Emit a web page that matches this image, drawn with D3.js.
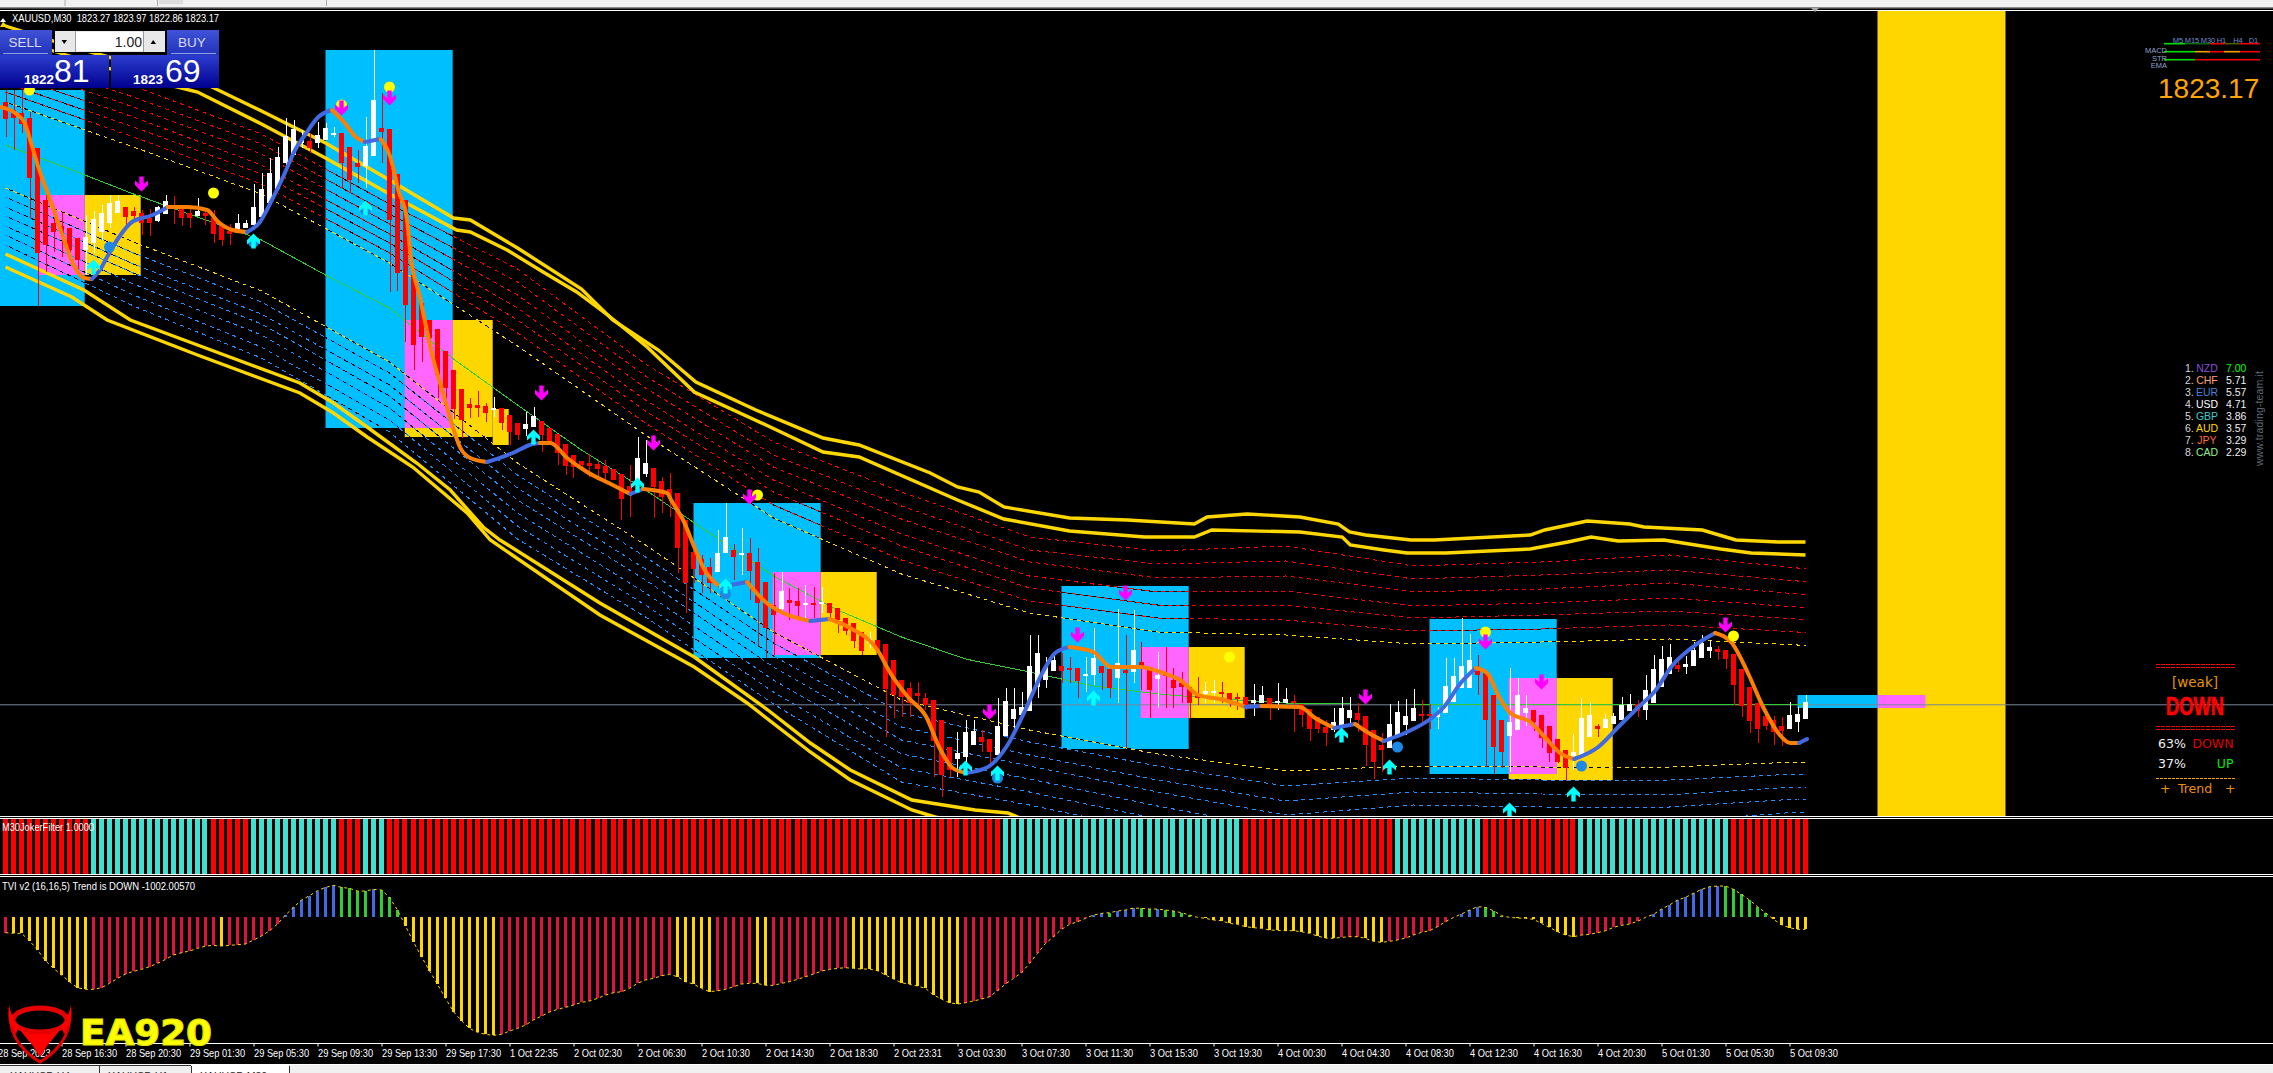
<!DOCTYPE html>
<html><head><meta charset="utf-8">
<script src="https://cdnjs.cloudflare.com/ajax/libs/d3/7.8.5/d3.min.js"></script>
<style>html,body{margin:0;padding:0;background:#000;overflow:hidden}svg{display:block}text{font-family:"Liberation Sans",Arial,sans-serif}</style>
</head><body><svg id="c" width="2273" height="1073"></svg>
<script>
const candleOpen=[1883.4,1882.6,1882.3,1881.8,1878.8,1873.6,1871.3,1871.0,1870.8,1869.8,
1868.6,1869.3,1870.4,1871.3,1872.3,1872.9,1872.5,1872.3,1871.8,1871.5,
1872.2,1873.0,1872.7,1872.3,1872.0,1872.3,1871.8,1871.2,1870.5,1870.6,
1870.8,1871.1,1871.9,1873.3,1874.7,1877.3,1878.1,1879.3,1879.5,1879.3,
1879.6,1880.2,1880.3,1878.9,1877.3,1877.0,1878.0,1880.8,1880.7,1876.2,
1873.6,1866.1,1863.3,1861.6,1860.7,1858.5,1856.6,1854.7,1853.2,1853.1,
1853.0,1852.6,1852.8,1852.1,1851.3,1850.7,1850.9,1851.5,1850.8,1850.2,
1849.2,1848.1,1847.5,1847.3,1847.2,1847.0,1846.7,1846.2,1845.0,1845.1,
1846.2,1846.8,1845.5,1844.7,1844.3,1841.6,1838.4,1837.7,1836.9,1836.4,
1838.3,1838.6,1838.2,1838.3,1837.4,1835.4,1833.1,1832.7,1833.6,1833.5,
1833.2,1833.3,1833.2,1833.3,1832.8,1831.8,1831.3,1830.4,1829.3,1829.6,
1829.2,1827.6,1825.6,1824.8,1824.3,1823.8,1823.6,1821.6,1818.9,1817.7,
1817.9,1819.1,1819.9,1819.7,1818.1,1820.0,1821.7,1822.1,1822.5,1824.9,
1825.6,1826.5,1827.0,1826.8,1826.8,1826.1,1826.1,1827.0,1826.7,1825.8,
1826.6,1826.4,1827.4,1826.9,1825.7,1826.3,1825.6,1825.3,1824.9,1824.1,
1824.2,1824.3,1824.4,1824.3,1823.9,1823.9,1823.3,1823.3,1823.8,1823.3,
1823.3,1823.5,1823.2,1822.7,1821.9,1820.9,1820.6,1821.0,1821.8,1822.3,
1822.0,1820.6,1819.1,1818.8,1820.0,1821.1,1821.5,1822.2,1822.2,1821.9,
1822.3,1823.4,1824.8,1824.8,1826.5,1826.3,1824.1,1821.6,1820.0,1820.6,
1822.3,1822.6,1822.1,1821.0,1819.7,1818.6,1818.0,1818.1,1819.9,1821.0,
1820.8,1821.2,1821.6,1822.5,1823.2,1822.6,1823.3,1824.9,1826.2,1827.1,
1826.9,1827.0,1827.8,1828.5,1828.7,1828.6,1828.2,1826.7,1824.9,1823.3,
1822.0,1821.6,1821.0,1820.7,1821.4,1821.7];
const candleClose=[1881.7,1881.8,1881.2,1875.8,1868.3,1869.1,1870.4,1870.4,1868.6,1867.6,
1869.9,1871.7,1872.3,1873.3,1873.5,1871.9,1872.0,1871.3,1871.3,1872.9,
1873.5,1872.8,1871.8,1871.8,1872.5,1872.0,1870.2,1869.6,1870.2,1871.3,
1871.3,1872.9,1874.7,1876.3,1877.9,1880.0,1880.7,1879.6,1878.8,1880.1,
1880.8,1880.3,1877.3,1875.6,1876.9,1879.0,1883.6,1880.4,1871.6,1866.3,
1863.1,1859.1,1859.9,1859.8,1856.1,1854.8,1852.7,1851.6,1852.8,1852.8,
1852.3,1852.8,1851.3,1850.4,1850.1,1851.2,1852.0,1850.1,1849.4,1848.3,
1847.0,1846.9,1847.1,1847.0,1846.7,1846.3,1845.6,1843.7,1844.3,1847.8,
1847.3,1844.9,1843.9,1843.9,1838.8,1835.3,1836.7,1836.1,1835.3,1838.3,
1839.9,1837.9,1838.3,1836.5,1833.3,1830.8,1832.1,1834.5,1833.3,1833.0,
1833.3,1833.1,1833.4,1832.3,1831.6,1830.5,1829.5,1828.5,1829.7,1828.6,
1824.7,1824.1,1823.9,1823.3,1824.0,1823.1,1819.5,1816.1,1816.6,1818.3,
1820.4,1820.5,1819.4,1818.4,1821.0,1823.5,1822.7,1822.9,1827.0,1828.3,
1826.9,1827.6,1826.5,1826.7,1825.5,1826.2,1827.8,1826.3,1824.8,1827.3,
1826.3,1828.6,1826.9,1824.6,1826.1,1826.0,1824.8,1824.9,1823.3,1823.8,
1824.5,1824.5,1824.3,1823.5,1823.7,1823.1,1823.6,1824.1,1823.1,1823.5,
1823.7,1823.3,1822.1,1820.7,1820.7,1820.3,1821.4,1822.8,1822.6,1821.6,
1819.1,1817.4,1818.6,1821.2,1822.4,1822.0,1822.8,1822.1,1822.1,1822.3,
1825.0,1826.0,1827.0,1827.6,1826.1,1821.6,1818.9,1818.4,1821.4,1824.1,
1822.8,1821.4,1819.8,1818.3,1817.4,1816.8,1818.4,1821.8,1822.1,1820.7,
1821.7,1822.0,1823.1,1823.2,1822.5,1824.6,1826.7,1827.7,1827.9,1826.7,
1827.2,1828.6,1829.3,1828.9,1828.4,1827.7,1825.1,1823.0,1821.5,1820.7,
1821.0,1820.4,1820.5,1822.1,1822.2,1823.4];
const candleHigh=[1884.6,1884.6,1884.6,1882.4,1878.8,1875.1,1872.4,1872.3,1870.8,1869.8,
1872.1,1872.5,1873.1,1874.1,1874.1,1872.9,1872.9,1872.6,1872.7,1873.0,
1874.1,1874.0,1872.7,1872.8,1873.8,1872.7,1872.6,1871.2,1871.2,1872.2,
1871.6,1875.2,1876.3,1877.8,1878.9,1881.8,1881.6,1880.6,1880.3,1881.4,
1881.3,1880.9,1880.3,1878.9,1878.6,1881.9,1888.6,1884.3,1880.7,1876.2,
1873.6,1866.1,1863.3,1861.6,1860.7,1858.5,1856.6,1854.7,1853.8,1854.5,
1853.3,1853.9,1852.8,1852.1,1851.3,1852.4,1852.9,1851.5,1850.8,1850.2,
1849.2,1848.1,1847.5,1848.2,1847.5,1847.6,1846.7,1846.2,1847.1,1849.9,
1849.6,1846.8,1845.9,1846.3,1844.3,1841.6,1838.4,1838.1,1837.8,1840.6,
1843.3,1839.2,1840.8,1839.8,1838.8,1835.4,1836.3,1836.4,1834.8,1834.8,
1835.1,1834.9,1834.9,1833.3,1832.8,1831.8,1831.3,1830.4,1830.4,1829.6,
1829.2,1827.6,1825.6,1825.4,1825.4,1824.3,1823.6,1821.6,1818.9,1820.4,
1821.6,1821.6,1820.6,1819.7,1823.8,1824.8,1824.8,1824.4,1830.1,1830.1,
1827.9,1828.3,1828.3,1827.9,1826.8,1827.9,1830.8,1827.0,1826.7,1832.7,
1830.1,1832.6,1829.4,1826.9,1828.4,1828.9,1826.8,1826.4,1824.9,1825.9,
1825.4,1825.6,1825.4,1824.3,1824.3,1823.9,1825.2,1825.0,1823.8,1825.3,
1824.8,1824.1,1823.2,1822.7,1821.9,1821.6,1822.8,1823.9,1823.9,1823.3,
1822.0,1820.6,1820.3,1823.2,1823.5,1823.7,1824.7,1823.6,1823.2,1822.9,
1827.8,1827.8,1831.8,1830.2,1828.1,1826.3,1824.1,1821.6,1826.8,1825.8,
1824.1,1822.6,1822.1,1821.0,1819.7,1818.6,1820.2,1823.8,1823.4,1821.2,
1822.2,1822.3,1823.9,1824.2,1823.6,1826.1,1828.1,1829.0,1829.2,1827.6,
1828.0,1829.4,1830.1,1829.6,1829.0,1828.6,1828.2,1826.7,1824.9,1823.3,
1822.0,1822.0,1821.9,1823.4,1822.9,1824.1];
const candleLow=[1879.9,1878.6,1880.3,1871.8,1863.0,1866.4,1868.4,1867.9,1868.4,1866.7,
1866.1,1868.3,1869.6,1870.8,1872.3,1870.8,1871.4,1870.1,1870.0,1871.4,
1872.2,1871.2,1871.0,1870.8,1872.0,1871.1,1869.3,1869.0,1869.1,1870.6,
1870.8,1870.9,1871.9,1873.3,1874.6,1876.3,1878.1,1878.8,1878.3,1878.8,
1879.6,1879.9,1874.8,1874.3,1875.3,1874.8,1878.0,1877.3,1864.4,1864.5,
1859.4,1856.6,1857.4,1858.0,1853.8,1853.4,1851.7,1849.8,1851.8,1851.9,
1851.4,1851.9,1850.6,1849.1,1849.6,1850.0,1850.9,1848.4,1849.3,1847.1,
1846.1,1845.8,1846.9,1845.9,1845.8,1845.6,1845.6,1841.6,1841.9,1845.1,
1845.9,1841.8,1842.3,1841.9,1836.3,1832.3,1835.3,1834.3,1834.3,1836.4,
1838.3,1835.6,1836.1,1833.6,1828.9,1827.8,1828.1,1832.6,1831.6,1831.6,
1831.8,1831.8,1832.3,1831.8,1830.3,1830.1,1828.8,1828.1,1828.8,1828.3,
1819.9,1821.8,1821.9,1821.9,1822.8,1822.6,1815.9,1813.9,1815.9,1815.9,
1816.8,1819.1,1818.4,1817.3,1818.1,1820.0,1820.3,1822.1,1822.5,1823.8,
1824.8,1826.5,1825.3,1825.3,1823.8,1824.4,1825.1,1824.6,1823.8,1823.3,
1818.8,1825.3,1824.6,1821.8,1822.8,1822.8,1822.8,1823.3,1821.8,1823.1,
1823.3,1823.3,1823.3,1822.9,1822.6,1822.6,1822.0,1823.3,1821.6,1822.6,
1823.3,1820.4,1820.9,1819.5,1820.3,1819.0,1820.4,1821.0,1820.9,1820.4,
1817.0,1815.7,1816.4,1818.8,1820.0,1820.1,1821.5,1821.4,1820.7,1820.7,
1822.3,1823.4,1824.8,1824.8,1824.1,1816.9,1816.2,1816.8,1816.4,1820.6,
1821.0,1820.5,1818.8,1817.4,1817.3,1815.5,1816.6,1818.1,1819.9,1819.9,
1820.8,1821.2,1821.6,1822.5,1821.9,1821.6,1823.3,1824.9,1826.2,1826.4,
1826.2,1827.0,1827.8,1827.8,1827.6,1826.7,1823.1,1821.9,1820.3,1819.3,
1820.6,1819.1,1819.0,1820.7,1820.4,1821.7];

// centre line sampled every 8 bars
const bandBars=[0,8,16,24,32,40,48,56,64,72,80,88,96,104,112,120,128,136,144,152,160,168,176,184,192,200,208,216,224,225];
const centerLine=[1879.1,1876.7,1874.2,1871.9,1869.6,1866.1,1862.8,1857.7,1853.1,1848.6,1844.6,1840.3,1836.0,1832.6,1829.9,1827.7,1826.4,1825.0,1824.2,1823.7,1823.3,1823.2,1823.2,1823.2,1823.2,1823.2,1823.2,1823.2,1823.2,1823.2];
// thick gold envelope lines
const upperOuterBars=[0,8,16,24,32,40,48,56,58.1,64,72,75.9,81.6,86.3,93.8,102.2,106.7,115.6,119,121.7,124.8,133,140.2,148.6,150.2,155.2,161.8,166.6,168,170,175.7,178.6,190.6,192.4,197.7,203,204.8,212.1,216.3,221.6,225];
const upperOuter=[1891.0,1889.0,1887.2,1885.6,1882.5,1879.3,1875.6,1871.8,1871.6,1868.8,1864.7,1861.6,1858.6,1855.4,1852.6,1849.8,1849.1,1846.3,1844.9,1844.4,1842.9,1841.8,1841.6,1841.2,1841.9,1842.2,1841.9,1841.2,1840.4,1840.1,1839.6,1839.6,1840.1,1840.6,1841.5,1841.2,1840.9,1840.6,1839.6,1839.4,1839.4];
const upperInnerBars=[0,8,16,24,32,40,48,56.4,58.1,62.7,67.2,71.4,75.6,80.2,86.1,95.6,102.2,106.7,119,124.8,133,142.4,148.6,150.8,161.8,167.1,168.1,172.3,175.2,180,190.6,195.3,198.2,201.6,207.3,214.4,218.2,225];
const upperInner=[1890.0,1888.0,1886.0,1884.4,1881.2,1877.8,1874.2,1870.6,1870.4,1868.6,1866.4,1864.4,1861.9,1858.9,1854.4,1850.9,1848.4,1847.9,1843.6,1841.7,1840.5,1839.9,1839.9,1840.6,1840.4,1839.9,1839.1,1838.6,1838.3,1838.3,1838.7,1839.4,1839.9,1839.5,1839.6,1838.7,1838.3,1838.1];
const lowerInnerBars=[0,9.8,15.6,24,36.8,41,45.2,51.4,55.6,59.7,61.8,74.3,86.1,95.3,100.6,105.6,113.3,121.2,125.3,128,140,225];
const lowerInner=[1868.2,1864.6,1861.6,1859.1,1855.3,1853.3,1850.9,1847.3,1844.6,1840.9,1839.6,1833.3,1827.9,1822.6,1819.3,1816.6,1813.6,1812.6,1812.3,1811.4,1809.0,1808.6];
const lowerOuterBars=[0,8.3,12.7,24,36.8,41,45.2,50.9,54.3,57.7,60.6,74.3,86.1,92.7,100.6,105.6,113.3,116.2,124.3,225];
const lowerOuter=[1866.9,1863.9,1861.6,1858.1,1854.3,1852.3,1849.9,1846.9,1844.6,1842.3,1839.6,1832.1,1826.9,1823.3,1818.4,1815.6,1812.6,1811.9,1810.6,1807.4];
// dotted lines sampled every 16 bars
const dashBars=[0,16,32,48,64,80,96,112,128,144,160,176,192,208,224,225];
const yellowUpper=[1883.4,1878.9,1874.2,1867.3,1859.0,1850.1,1841.8,1836.2,1832.3,1830.4,1830.1,1829.2,1829.4,1829.7,1829.1,1829.1];
const red1=[1884.4,1879.9,1875.2,1868.3,1860.3,1851.3,1843.1,1837.6,1833.5,1831.8,1831.6,1830.5,1830.7,1831.1,1830.4,1830.4];
const red2=[1885.3,1880.9,1876.2,1869.3,1861.6,1852.5,1844.4,1839.0,1834.8,1833.1,1833.1,1831.8,1832.1,1832.5,1831.7,1831.7];
const red3=[1886.2,1881.9,1877.1,1870.2,1862.8,1853.6,1845.6,1840.2,1836.0,1834.4,1834.5,1833.0,1833.3,1833.8,1832.9,1832.9];
const red4=[1887.2,1882.9,1878.2,1871.2,1864.1,1854.8,1846.9,1841.7,1837.4,1835.8,1836.0,1834.4,1834.7,1835.3,1834.2,1834.2];
const red5=[1888.1,1883.9,1879.2,1872.2,1865.4,1856.0,1848.1,1843.0,1838.6,1837.2,1837.5,1835.7,1836.1,1836.6,1835.5,1835.5];
const red6=[1889.0,1885.0,1880.2,1873.2,1866.7,1857.2,1849.4,1844.4,1839.9,1838.5,1839.0,1837.0,1837.4,1838.1,1836.8,1836.8];
const yellowLower=[1874.8,1869.4,1864.5,1857.4,1847.3,1839.1,1830.4,1823.6,1820.6,1818.2,1816.5,1817.0,1816.9,1816.9,1817.4,1817.4];
const blue1=[1873.9,1868.3,1863.4,1856.3,1846.1,1837.9,1829.3,1822.3,1819.4,1817.0,1815.0,1815.8,1815.6,1815.6,1816.2,1816.2];
const blue2=[1872.9,1867.2,1862.2,1855.1,1844.8,1836.7,1828.0,1820.9,1818.1,1815.6,1813.5,1814.4,1814.2,1814.1,1814.9,1814.9];
const blue3=[1872.0,1866.3,1861.2,1854.0,1843.6,1835.6,1826.9,1819.6,1817.0,1814.4,1812.1,1813.1,1812.9,1812.9,1813.7,1813.7];
const blue4=[1871.0,1865.2,1860.1,1852.8,1842.3,1834.3,1825.6,1818.2,1815.7,1813.0,1810.6,1811.7,1811.5,1811.4,1812.4,1812.4];
const blue5=[1870.1,1864.1,1858.9,1851.6,1841.0,1833.1,1824.4,1816.8,1814.4,1811.7,1809.0,1810.3,1810.1,1810.0,1811.1,1811.1];
const blue6=[1869.1,1863.0,1857.8,1850.4,1839.7,1831.9,1823.2,1815.4,1813.1,1810.4,1807.6,1809.0,1808.7,1808.7,1809.8,1809.8];

// smoothed trend, runs alternate orange / blue
const trendBarRuns=[[-0.7,1.2,2.4,3.2,4.1,5.6,6.9,8.4,9.8,10.8],[11.8,12.7,14.2,15.8,18.4,20.3],[22.8,25.2,26.6,28.4,30.2],[31.8,33.3,34.7,36.2,37.6,39.1,40.8],[42.3,43.8,44.9],[46.9],[48.1,49.1,50.2,50.6,51.8,53.4,54.7,55.9,56.8,58.1,60.2],[63.4,65.9,66.8],[68.1,70.2,72.7,75.9,78.1],[79.7],[82.7,83.2,84.7,86.1,87.4,89.3],[92.7],[95.0,97.2,100.6],[103.0],[105.6,109.0,110.6,112.8,115.1,116.7,118.4,120.1],[122.8,125.1,127.3,129.6,131.2,133.0],[136.0,138.2,141.8,144.7,146.8,149.1,152.4,155.0],[157.0],[161.8,163.7,166.1],[168.7],[170.4,172.3],[175.2,178.1,179.8,181.9,183.8],[185.2,186.7,188.1,190.6,192.4,194.3,196.1],[199.1,201.6,204.0,206.3,208.2,211.6,213.7],[215.8,217.8,219.7,221.6,223.1,224.2],[225.2]];
const trendPriceRuns=[[1882.9,1882.3,1881.3,1879.3,1876.9,1873.6,1870.6,1867.3,1865.8,1865.7],[1866.6,1867.9,1869.9,1871.4,1872.1,1872.9],[1872.9,1872.6,1871.4,1870.6,1870.4],[1871.4,1873.6,1875.9,1878.6,1880.3,1881.9,1882.6],[1881.4,1879.9,1879.4],[1879.7],[1877.9,1874.6,1871.6,1868.3,1863.9,1857.9,1854.3,1850.9,1848.9,1847.8,1847.4],[1848.3,1849.2,1849.3],[1849.3,1847.8,1846.4,1845.1,1844.2],[1844.7],[1844.3,1843.6,1841.6,1838.9,1836.6,1834.9],[1835.4],[1833.4,1832.3,1831.5],[1831.7],[1830.8,1828.6,1826.3,1823.9,1821.9,1818.9,1816.8,1816.3],[1816.9,1818.9,1822.3,1826.3,1828.3,1828.9],[1828.4,1826.9,1826.9,1826.3,1825.6,1824.1,1823.6,1822.9],[1823.0],[1822.9,1821.8,1820.8],[1821.2],[1820.3,1819.5],[1820.4,1821.7,1822.9,1825.3,1826.8],[1826.3,1823.9,1822.3,1821.4,1819.9,1818.3,1817.7],[1818.9,1820.9,1822.8,1824.6,1826.9,1829.3,1830.3],[1829.3,1826.3,1822.9,1820.3,1819.3,1819.3],[1819.7]];

// signal markers
const downArrowBars=[17,42,48,67,81,93,123,134,140,170,185,192,215];
const downArrowPrices=[1875.2,1882.8,1883.8,1854.3,1849.3,1843.9,1822.4,1830.1,1834.3,1823.9,1829.4,1825.4,1831.1];
const upArrowBars=[11,31,45,66,79,90,120,124,136,167,173,188,196];
const upArrowPrices=[1866.9,1869.5,1872.8,1849.9,1845.1,1835.0,1816.8,1816.3,1823.8,1820.1,1816.9,1812.6,1814.2];
const yellowDotBars=[3,26,42,48,94,153,185,216];
const yellowDotPrices=[1884.6,1874.3,1883.1,1884.9,1844.1,1827.9,1830.4,1830.0];
const blueDotBars=[13,31,45,90,124,174,197];
const blueDotPrices=[1868.9,1869.4,1872.6,1834.2,1815.8,1818.9,1817.0];

// session boxes [first edge bar, last edge bar, top price, bottom price]
const goldBoxes=[[9.9,16.9,1874.1,1866.1],[49.9,60.9,1861.6,1849.9],[60.9,62.9,1852.7,1849.1],[101.9,108.9,1836.4,1828.1],[147.9,154.9,1828.9,1821.8],[187.9,200.9,1825.8,1815.6]];
const cyanBoxes=[[-0.7,9.9,1884.6,1863.0],[40,55.9,1888.6,1850.8],[86,101.9,1843.3,1827.8],[132,147.9,1835.0,1818.7],[178,193.9,1831.7,1816.2],[224,234,1824.1,1822.8]];
const magentaBoxes=[[4.1,9.9,1874.1,1866.1],[49.9,55.9,1861.6,1850.8],[95.9,101.9,1836.4,1828.1],[141.9,147.9,1828.9,1821.8],[187.9,193.9,1825.8,1816.2],[234,240,1824.1,1822.8]];
const lastPrice=1823.17;

// sub-pane values
const jokerRunLengths=[11,15,5,11,3,3,77,30,19,11,12,19,10];
const tviValues=[-48,-50,-50,-72,-100,-132,-155,-175,-195,-213,-218,-218,-213,-200,-185,-172,-164,-158,-150,-140,-128,-115,-108,-103,-95,-88,-86,-88,-86,-84,-82,-70,-58,-42,-22,5,28,50,63,78,88,94,88,85,77,77,82,80,58,20,-28,-76,-120,-162,-203,-245,-285,-312,-335,-347,-353,-356,-353,-343,-335,-325,-310,-298,-286,-278,-272,-265,-257,-253,-245,
-235,-228,-225,-215,-200,-190,-185,-177,-173,-180,-195,-202,-215,-225,-222,-218,-210,-202,-200,-200,-206,-206,-200,-195,-188,-180,-172,-163,-158,-155,-153,-155,-157,-157,-162,-175,-187,-198,-203,-208,-215,-235,-247,-258,-262,-258,-253,-247,-240,-222,-202,-185,-168,-140,-110,-80,-60,-38,-23,-15,-5,5,10,12,17,20,26,25,23,23,20,17,12,5,-2,-5,-10,-12,-20,-23,-30,-33,-35,-40,-41,-42,-42,-45,-50,-58,-64,-65,-62,-60,-60,-65,-74,-77,-74,-70,
-64,-55,-47,-42,-30,-15,-2,8,20,30,28,18,3,-2,-4,-5,-8,-20,-32,-45,-55,-60,-55,-53,-48,-42,-32,-26,-22,-14,-2,7,23,35,50,58,70,82,90,92,92,82,67,50,30,12,-8,-24,-33,-38,-38];
const tviColorCodes=["c","y","c","y","c","b","g","b","g","y","c","y","c","y","c","y","c","b","g","b","g","b","g","y","c","y","c","b","g","y","c","b","g","y"];
const tviColorLengths=[1,10,16,1,7,7,4,1,3,12,22,5,5,2,10,14,16,2,1,3,2,1,4,18,3,3,9,3,3,9,9,9,6,5];
const tickBars=[-1,7,15,23,31,39,47,55,63,71,79,87,95,103,111,119,127,135,143,151,159,167,175,183,191,199,207,215,223];
const tickLabels=["28 Sep 2023","28 Sep 16:30","28 Sep 20:30","29 Sep 01:30","29 Sep 05:30","29 Sep 09:30","29 Sep 13:30","29 Sep 17:30","1 Oct 22:35","2 Oct 02:30","2 Oct 06:30","2 Oct 10:30","2 Oct 14:30","2 Oct 18:30","2 Oct 23:31","3 Oct 03:30","3 Oct 07:30","3 Oct 11:30","3 Oct 15:30","3 Oct 19:30","4 Oct 00:30","4 Oct 04:30","4 Oct 08:30","4 Oct 12:30","4 Oct 16:30","4 Oct 20:30","5 Oct 01:30","5 Oct 05:30","5 Oct 09:30"];
const strengthNames=["NZD","CHF","EUR","USD","GBP","AUD","JPY","CAD"];
const strengthValues=[7.00,5.71,5.57,4.71,3.86,3.57,3.29,2.29];
const strengthColors=["#8a4fd8","#ffa07a","#4682d8","#ffffff","#40c8c8","#ffd700","#ff6a3c","#90ee90"];
const timeframes=["M5","M15","M30","H1","H4","D1"];

// scales
const W=2273,H=1073;
const x=d3.scaleLinear().domain([0,225]).range([5.5,1805.5]);
const y=d3.scaleLinear().domain([1893.6,1813.6]).range([0,800]);
const yTvi=d3.scaleLinear().domain([300,-300]).range([816.7,1016.7]);
const svg=d3.select("#c");
const defs=svg.append("defs");
defs.append("clipPath").attr("id","mainClip").append("rect").attr("x",0).attr("y",11).attr("width",W).attr("height",805);
const grad=(id,a,b)=>{const g=defs.append("linearGradient").attr("id",id).attr("x1",0).attr("x2",0).attr("y1",0).attr("y2",1);g.append("stop").attr("offset",0).attr("stop-color",a);g.append("stop").attr("offset",1).attr("stop-color",b);};
grad("gBtn","#3f52d8","#2233b8");grad("gPrice","#2c3ed0","#00008e");

svg.append("rect").attr("width",W).attr("height",H).attr("fill","#000");

// window chrome top
const chrome=svg.append("g");
chrome.append("rect").attr("width",W).attr("height",7).attr("fill","#f0f0f0");
chrome.append("rect").attr("y",7).attr("width",W).attr("height",1.5).attr("fill","#8c8c8c");
chrome.append("rect").attr("y",10).attr("width",W).attr("height",1).attr("fill","#fff");
[[64.5],[157],[326]].forEach(d=>chrome.append("rect").attr("x",d[0]).attr("y",0).attr("width",1).attr("height",6).attr("fill","#aaa"));
chrome.append("rect").attr("x",159).attr("y",0).attr("width",24).attr("height",4).attr("fill","#ddd");

const main=svg.append("g").attr("clip-path","url(#mainClip)");
main.append("rect").attr("x",x(234)).attr("y",0).attr("width",x(250)-x(234)).attr("height",820).attr("fill","#ffd700");
const drawBoxes=(list,col)=>main.selectAll(null).data(list).enter().append("rect")
 .attr("x",d=>x(d[0])).attr("width",d=>x(d[1])-x(d[0])).attr("y",d=>y(d[2])).attr("height",d=>y(d[3])-y(d[2])).attr("fill",col);
drawBoxes(goldBoxes,"#ffd700");drawBoxes(cyanBoxes,"#00bfff");drawBoxes(magentaBoxes,"#ff66ff");

main.append("line").attr("x1",0).attr("x2",W).attr("y1",y(lastPrice)+.5).attr("y2",y(lastPrice)+.5).attr("stroke","#778899").attr("stroke-width",1);

// envelope lines
const lineOf=(bars)=>d3.line().x((d,i)=>x(bars[i])).y(d=>y(d));
const dashLine=lineOf(dashBars);
const drawDashed=(vals,col)=>{
 main.append("path").attr("d",dashLine(vals)).attr("fill","none").attr("stroke","#000").attr("stroke-width",1).attr("shape-rendering","crispEdges");
 main.append("path").attr("d",dashLine(vals)).attr("fill","none").attr("stroke",col).attr("stroke-width",1).attr("stroke-dasharray","4 4").attr("shape-rendering","crispEdges");
};
[red6,red5,red4,red3,red2,red1].forEach(v=>drawDashed(v,"#ff0000"));
drawDashed(yellowUpper,"#ffd700");drawDashed(yellowLower,"#ffd700");
[blue1,blue2,blue3,blue4,blue5,blue6].forEach(v=>drawDashed(v,"#1e90ff"));
main.append("path").attr("d",lineOf(bandBars)(centerLine)).attr("fill","none").attr("stroke","#32cd32").attr("stroke-width",1).attr("shape-rendering","crispEdges");
[[upperOuterBars,upperOuter],[upperInnerBars,upperInner],[lowerInnerBars,lowerInner],[lowerOuterBars,lowerOuter]].forEach(d=>
 main.append("path").attr("d",lineOf(d[0])(d[1])).attr("fill","none").attr("stroke","#ffd700").attr("stroke-width",3.4));

// candles
const idx=d3.range(candleOpen.length);
main.selectAll(null).data(idx).enter().append("rect").attr("x",i=>Math.round(x(i))-.5+0).attr("width",1)
 .attr("y",i=>y(candleHigh[i])).attr("height",i=>Math.max(1,y(candleLow[i])-y(candleHigh[i])))
 .attr("fill",i=>candleClose[i]>=candleOpen[i]?"#fff":"#f00").attr("shape-rendering","crispEdges");
main.selectAll(null).data(idx).enter().append("rect").attr("x",i=>x(i)-2.5).attr("width",5)
 .attr("y",i=>y(Math.max(candleOpen[i],candleClose[i]))).attr("height",i=>Math.max(2,Math.abs(y(candleOpen[i])-y(candleClose[i]))))
 .attr("fill",i=>candleClose[i]>=candleOpen[i]?"#fff":"#f00").attr("shape-rendering","crispEdges");

// trend line
const trendLine=d3.line().x(d=>x(d[0])).y(d=>y(d[1])).curve(d3.curveMonotoneX);
trendBarRuns.forEach((bars,r)=>{
 const pts=bars.map((b,i)=>[b,trendPriceRuns[r][i]]);
 if(r>0){const pb=trendBarRuns[r-1],pp=trendPriceRuns[r-1];pts.unshift([pb[pb.length-1],pp[pp.length-1]]);}
 main.append("path").datum(pts).attr("d",trendLine).attr("fill","none").attr("stroke",r%2?"#4169e1":"#ff8000").attr("stroke-width",4).attr("stroke-linecap","round");
});

// markers
main.selectAll(null).data(blueDotBars).enter().append("circle").attr("cx",d=>x(d)).attr("cy",(d,i)=>y(blueDotPrices[i])).attr("r",5.5).attr("fill","#1e88e5");
main.selectAll(null).data(yellowDotBars).enter().append("circle").attr("cx",d=>x(d)).attr("cy",(d,i)=>y(yellowDotPrices[i])).attr("r",5.5).attr("fill","#ffff00");
const downShape="M-2.2,-7.5L2.2,-7.5L2.2,0L6.5,-3.5L6.5,1L0,7.5L-6.5,1L-6.5,-3.5L-2.2,0Z";
const upShape="M-2.2,7.5L2.2,7.5L2.2,0L6.5,3.5L6.5,-1L0,-7.5L-6.5,-1L-6.5,3.5L-2.2,0Z";
main.selectAll(null).data(downArrowBars).enter().append("path").attr("d",downShape).attr("fill","#ff00ff").attr("transform",(d,i)=>`translate(${x(d)},${y(downArrowPrices[i])})`);
main.selectAll(null).data(upArrowBars).enter().append("path").attr("d",upShape).attr("fill","#00ffff").attr("transform",(d,i)=>`translate(${x(d)},${y(upArrowPrices[i])})`);

// pane separators
[816.5,818.5,874.5,876.5,1043.5,1064].forEach(v=>svg.append("rect").attr("x",0).attr("y",Math.floor(v)).attr("width",W).attr("height",1).attr("fill","#fff"));

// joker pane
const jk=[];jokerRunLengths.forEach((n,r)=>{for(let k=0;k<n;k++)jk.push(r%2?"#40e0d0":"#ff0000");});
svg.selectAll(null).data(jk).enter().append("rect").attr("x",(d,i)=>Math.round(x(i))-3).attr("width",5).attr("y",819).attr("height",54.5).attr("fill",d=>d).attr("shape-rendering","crispEdges");

// TVI pane
const tviColors=[];const pal={c:"#dc143c",y:"#ffd700",b:"#4169e1",g:"#32cd32"};
tviColorCodes.forEach((c,r)=>{for(let k=0;k<tviColorLengths[r];k++)tviColors.push(pal[c]);});
svg.selectAll(null).data(tviValues).enter().append("rect").attr("x",(d,i)=>x(i)-1.5).attr("width",3)
 .attr("y",d=>Math.min(yTvi(d),yTvi(0))).attr("height",d=>Math.abs(yTvi(d)-yTvi(0))).attr("fill",(d,i)=>tviColors[i]).attr("shape-rendering","crispEdges");
svg.append("path").datum(tviValues).attr("d",d3.line().x((d,i)=>x(i)).y(d=>yTvi(d))).attr("fill","none").attr("stroke","#ffd700").attr("stroke-width",1).attr("stroke-dasharray","3 3");

const label=(t,px,py,size,col,anchor,extra)=>{const s=svg.append("text").attr("x",px).attr("y",py).attr("font-size",size).attr("fill",col).attr("text-anchor",anchor||"start").text(t);if(extra)extra(s);return s;};
const fitted=w=>s=>s.attr("textLength",w).attr("lengthAdjust","spacingAndGlyphs");
label("M30JokerFilter 1.0000",2,831,10.5,"#fff","start",fitted(92));
label("TVI v2 (16,16,5) Trend is DOWN -1002.00570",2,889.5,10.5,"#fff","start",fitted(193));

// x axis
const axis=d3.axisBottom(x).tickValues(tickBars).tickFormat((d,i)=>tickLabels[i]).tickSize(3);
const ax=svg.append("g").attr("transform","translate(0,1043.5)").call(axis);
ax.select(".domain").remove();
ax.selectAll("line").attr("stroke","#fff");
ax.selectAll("text").attr("x",0).attr("y",6).attr("text-anchor","start").attr("fill","#fff").attr("font-size",10.6)
 .each(function(){this.setAttribute("textLength",this.getComputedTextLength()*0.875);this.setAttribute("lengthAdjust","spacingAndGlyphs");});

// tabs at the bottom
svg.append("rect").attr("y",1065).attr("width",W).attr("height",8).attr("fill","#f0f0f0");
svg.append("rect").attr("x",0).attr("y",1065).attr("width",191).attr("height",1).attr("fill","#333");
svg.append("rect").attr("x",191).attr("y",1065).attr("width",98).attr("height",8).attr("fill","#fff");
[99,191,289].forEach(v=>svg.append("rect").attr("x",v).attr("y",1066).attr("width",1).attr("height",7).attr("fill","#333"));
[["XAUUSD,H4",10],["XAUUSD,H1",108],["XAUUSD,M30",200]].forEach(d=>label(d[0],d[1],1080,10.5,"#222"));

// logo
const logo=svg.append("g");
logo.append("ellipse").attr("cx",40).attr("cy",1020).attr("rx",27).attr("ry",12).attr("fill","none").attr("stroke","#e60000").attr("stroke-width",5);
logo.append("path").attr("d","M9,1005C7,1020 10,1030 16,1034L19,1026C14,1021 11,1014 9,1005ZM71,1005C73,1020 70,1030 64,1034L61,1026C66,1021 69,1014 71,1005Z").attr("fill","#ff0000");
logo.append("path").attr("d","M11,1025C14,1042 28,1055 40,1062C52,1055 66,1042 69,1025").attr("fill","none").attr("stroke","#e00000").attr("stroke-width",3);
logo.append("path").attr("d","M20,1030L32,1034L48,1034L60,1030L52,1040L47,1046L40,1057L33,1046L28,1040Z").attr("fill","#ff0000");
label("EA920",80,1045,35,"#ffff00","start",s=>s.style("font-family","DejaVu Sans").attr("font-weight","bold").attr("textLength",132).attr("lengthAdjust","spacingAndGlyphs").attr("stroke","#e6e600").attr("stroke-width",1.2));

// symbol line
svg.append("path").attr("d","M0,22L3,18L6,22Z").attr("fill","#fff");
svg.append("path").attr("d","M0,27L3,22L9,27Z").attr("fill","#ffd700");
label("XAUUSD,M30  1823.27 1823.97 1822.86 1823.17",12,22,10.5,"#fff","start",s=>s.style("white-space","pre").attr("textLength",207).attr("lengthAdjust","spacingAndGlyphs"));

// trading panel
const panel=svg.append("g");
const box=(a,b,c,d,f)=>panel.append("rect").attr("x",a).attr("y",b).attr("width",c).attr("height",d).attr("fill",f);
box(0,30,52,25,"url(#gBtn)");box(167,30,52,25,"url(#gBtn)");
box(3,53,45,1,"#8ea0f0");box(171,53,45,1,"#8ea0f0");
box(54,30,112,23,"#000");box(55,31,110,21,"#e8e8e8");box(76,32,67,19,"#fff");
box(75,31,1,21,"#999");box(143,31,1,21,"#999");
panel.append("path").attr("d","M61.5,40L67,40L64.2,44Z").attr("fill","#000");
panel.append("path").attr("d","M150.5,44L156,44L153.2,40Z").attr("fill","#000");
box(0,55,109,33,"url(#gPrice)");box(111,55,108,33,"url(#gPrice)");
label("SELL",25,47,13.5,"#d8dcff","middle");
label("BUY",192,47,13.5,"#d8dcff","middle");
label("1.00",142,46.5,14,"#222","end");
label("1822",24,84,13.5,"#fff","start",s=>s.attr("font-weight","bold"));
label("81",54,82,32,"#fff");
label("1823",133,84,13.5,"#fff","start",s=>s.attr("font-weight","bold"));
label("69",165,82,32,"#fff");

// small top marker
svg.append("path").attr("d","M1811,8L1819,8L1815,12Z").attr("fill","#aaa");

// multi timeframe box
const tfX=[2178,2192,2208,2221.5,2238,2253.5];
timeframes.forEach((t,i)=>label(t,tfX[i],42.5,7.5,"#6f8fd0","middle"));
const tfRows=[[43.7,[[2164,2185,"#00dd00"],[2185,2210,"#0a6a0a"],[2210,2225,"#ee0000"],[2225,2240,"#4a5a00"],[2240,2260,"#ee0000"]]],
[51.7,[[2164,2195,"#00dd00"],[2195,2210,"#f5a000"],[2210,2224,"#ee0000"],[2224,2240,"#f5a000"],[2240,2260,"#ee0000"]]],
[59.7,[[2164,2195,"#00dd00"],[2195,2260,"#ee0000"]]]];
tfRows.forEach(r=>r[1].forEach(s=>svg.append("rect").attr("x",s[0]).attr("y",r[0]-.8).attr("width",s[1]-s[0]).attr("height",1.6).attr("fill",s[2])));
[["MACD",53],["STR",60.5],["EMA",68]].forEach(d=>label(d[0],2167,d[1],7.5,"#8fa3c8","end"));
label("1823.17",2158,97.5,28,"#ffa500");

// currency strength
strengthNames.forEach((n,i)=>{const py=372+i*11.95;
 label((i+1)+".",2185,py,10.5,"#d8d8d8");
 label(n,2207,py,10.5,strengthColors[i],"middle");
 label(strengthValues[i].toFixed(2),2226,py,10.5,i==0?"#00ff00":"#f0f0f0");
});
svg.append("text").attr("transform","translate(2263,466) rotate(-90)").attr("font-size",10.5).attr("fill","#5e6a74").attr("textLength",95).text("www.trading-team.it");

// signal box
const hdash=(px1,px2,py,col,dash)=>svg.append("line").attr("x1",px1).attr("x2",px2).attr("y1",py).attr("y2",py).attr("stroke",col).attr("stroke-dasharray",dash).attr("stroke-width",1).attr("shape-rendering","crispEdges");
[664.5,667.5,726.5,729.5].forEach(v=>hdash(2156,2235,v,"#ff0000","4 1"));
hdash(2156,2235,778.5,"#ffa500","3 1");
const dv=s=>s.style("font-family","DejaVu Sans");
label("[weak]",2195,687,13.5,"#e69500","middle",dv);
label("DOWN",2195,715,25,"#ff0000","middle",s=>s.attr("font-weight","bold").attr("textLength",58).attr("lengthAdjust","spacingAndGlyphs").attr("stroke","#ff0000").attr("stroke-width",.7));
label("63%",2158,748,12.5,"#f0f0f0","start",dv);
label("DOWN",2233.5,748,12.5,"#e00000","end",dv);
label("37%",2158,768,12.5,"#f0f0f0","start",dv);
label("UP",2233.5,768,12.5,"#00ee00","end",dv);
label("+",2160,793,12.5,"#f09000","start",dv);
label("Trend",2195,793,12.5,"#f09000","middle",dv);
label("+",2225,793,12.5,"#f09000","start",dv);
</script></body></html>
